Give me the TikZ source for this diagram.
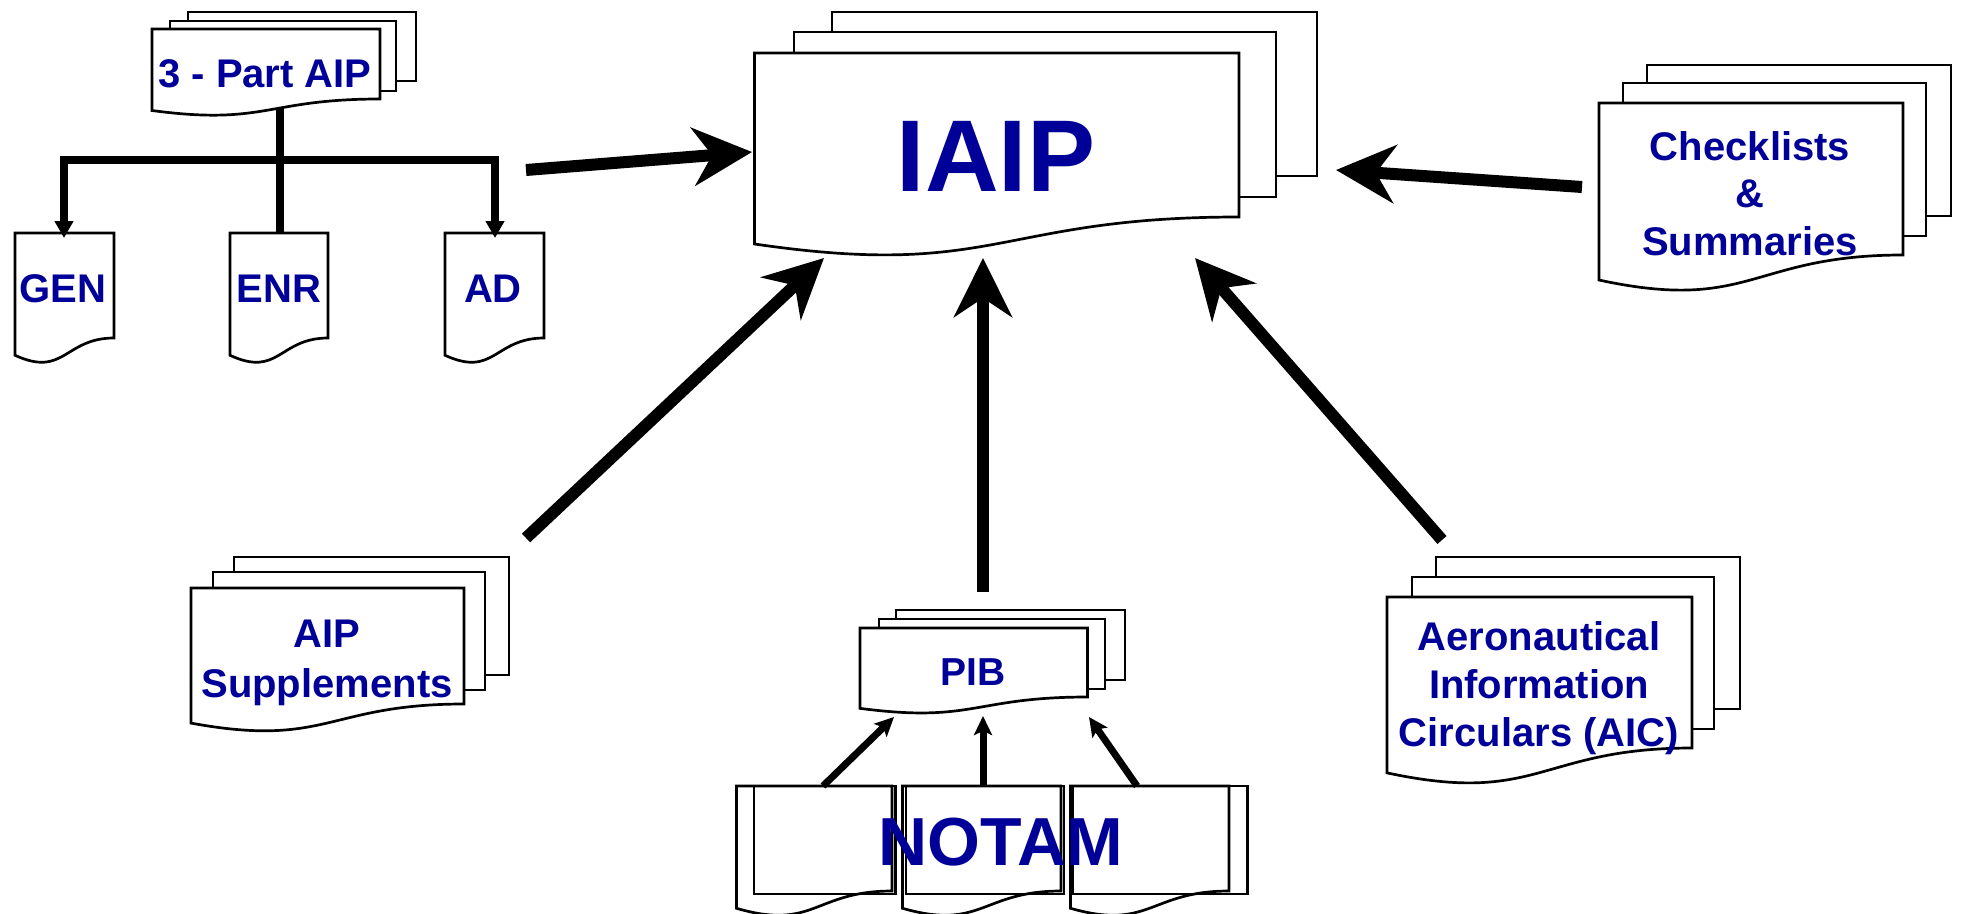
\documentclass[tikz,border=0pt]{standalone}
\usepackage{fontspec}
\setmainfont{Liberation Sans}
\usetikzlibrary{arrows.meta}
\definecolor{inkblue}{RGB}{0,0,153}

% document sheet with a wavy lower edge: #2=x0, #3=top, #4=x1, #5=y of lower right corner
\newcommand\docpage[5][sheetstyle]{%
  \pgfmathsetmacro\docH{(#5-#3)/0.802}%
  \pgfmathsetmacro\docBL{#3+0.934*\docH}%
  \pgfmathsetmacro\docLow{#3+1.1075*\docH}%
  \pgfmathsetmacro\docMid{(#2+#4)/2}%
  \draw[#1] (#2,#3) -- (#4,#3) -- (#4,#5)
    .. controls (\docMid,#5) and (\docMid,\docLow) .. (#2,\docBL) -- cycle;
}
% plain rectangular sheet behind a document
\newcommand\backsheet[5][sheetstyle]{\draw[#1] (#2,#3) rectangle (#4,#5);}

\begin{document}
\begin{tikzpicture}[x=1pt,y=-1pt,
  sheetstyle/.style={draw=black,line width=2.7pt,fill=white,line join=miter},
  sheetline/.style={draw=black,line width=2.7pt,line join=miter},
  doctext/.style={text=inkblue,inner sep=0pt,align=center,anchor=base},
  bigarrow/.style={line width=12pt,-{Stealth[length=59pt,width=58pt,inset=19pt]}},
  smallarrow/.style={line width=7pt,-{Stealth[length=19pt,width=18pt,inset=4pt]}},
  treeline/.style={line width=8pt,line join=miter},
  treearrows/.style={treeline,{Triangle[length=17pt,width=18pt]}-{Triangle[length=17pt,width=18pt]}},
]
\useasboundingbox (0,0) rectangle (1961,913);

% connector end points
\coordinate (aip3-s) at (280,100);
\coordinate (enr-n) at (280,233);
\coordinate (gen-n) at (64,238);
\coordinate (ad-n) at (495,238);
\coordinate (bar) at (280,160);
\coordinate (aip3-e) at (526,170);
\coordinate (iaip-w) at (752,152);
\coordinate (chk-w) at (1582,187);
\coordinate (iaip-e) at (1336,170);
\coordinate (sup-ne) at (526,538);
\coordinate (iaip-sw) at (824,258);
\coordinate (pib-n) at (983,592);
\coordinate (iaip-s) at (983,258);
\coordinate (aic-nw) at (1442,540);
\coordinate (iaip-se) at (1195,258);
\coordinate (notam-a) at (823,786);
\coordinate (pib-sw) at (894,717);
\coordinate (notam-b) at (983,786);
\coordinate (pib-s) at (983,716);
\coordinate (notam-c) at (1137,786);
\coordinate (pib-se) at (1089,717);

% stem from the 3-part AIP down to ENR
\draw[treeline] (aip3-s) -- (enr-n);

% 3-part AIP
\backsheet{188}{12}{416}{81}
\backsheet{170}{21}{396}{91}
\docpage{152}{29}{380}{99}

% GEN, ENR, AD
\docpage{15}{233}{114}{338}
\docpage{230}{233}{328}{338}
\docpage{445}{233}{544}{338}

% IAIP
\backsheet{832}{12}{1317}{176}
\backsheet{794}{32}{1276}{197}
\docpage{754.5}{53}{1239}{217}

% Checklists & Summaries
\backsheet{1647}{65}{1951}{216}
\backsheet{1623}{83}{1926}{236}
\docpage{1599}{103}{1903}{255}

% AIP Supplements
\backsheet{234}{557}{509}{675}
\backsheet{213}{572}{485}{690}
\docpage{191}{588}{464}{704}

% PIB
\backsheet{896}{610}{1125}{680}
\backsheet{879}{619}{1105}{689}
\docpage{860}{628}{1087.5}{697}

% AIC
\backsheet{1436}{557}{1740}{709}
\backsheet{1412}{577}{1714}{729}
\docpage{1387}{597}{1692}{748}

% NOTAM sheets
\docpage[sheetline]{736.5}{786}{892}{891}
\backsheet[sheetline]{754}{786}{895.6}{894}
\docpage[sheetline]{902.5}{786}{1061}{891}
\backsheet[sheetline]{906}{786}{1064}{894}
\docpage[sheetline]{1070.5}{786}{1229}{891}
\backsheet[sheetline]{1073}{786}{1247.5}{894}

% branches to GEN and AD
\draw[treearrows] (gen-n) |- (bar) -| (ad-n);

% flows into the IAIP
\draw[bigarrow] (aip3-e) -- (iaip-w);
\draw[bigarrow] (chk-w) -- (iaip-e);
\draw[bigarrow] (sup-ne) -- (iaip-sw);
\draw[bigarrow] (pib-n) -- (iaip-s);
\draw[bigarrow] (aic-nw) -- (iaip-se);

% NOTAM into PIB
\draw[smallarrow] (notam-a) -- (pib-sw);
\draw[smallarrow] (notam-b) -- (pib-s);
\draw[smallarrow] (notam-c) -- (pib-se);

% labels (multi-line labels sit on the baseline of their last line)
\node[doctext,font=\fontsize{102}{110}\selectfont\bfseries] (iaip) at (996,191) {IAIP};
\node[doctext,font=\fontsize{40}{48}\selectfont\bfseries] (aip3) at (265,87) {3 - Part AIP};
\node[doctext,font=\fontsize{40}{48}\selectfont\bfseries] (gen) at (63,302) {GEN};
\node[doctext,font=\fontsize{40}{48}\selectfont\bfseries] (enr) at (279,302) {ENR};
\node[doctext,font=\fontsize{40}{48}\selectfont\bfseries] (ad) at (493,302) {AD};
\node[doctext,font=\fontsize{40}{47.5}\selectfont\bfseries] (chk) at (1750,255) {Checklists\\\&\\Summaries};
\node[doctext,font=\fontsize{40}{50}\selectfont\bfseries] (sup) at (327,697) {AIP\\Supplements};
\node[doctext,font=\fontsize{39}{47}\selectfont\bfseries] (pib) at (973,685) {PIB};
\node[doctext,font=\fontsize{40}{48}\selectfont\bfseries] (aic) at (1539,746) {Aeronautical\\Information\\Circulars (AIC)};
\node[doctext,font=\fontsize{68}{80}\selectfont\bfseries] (notam) at (1001,865) {NOTAM};
\end{tikzpicture}
\end{document}
